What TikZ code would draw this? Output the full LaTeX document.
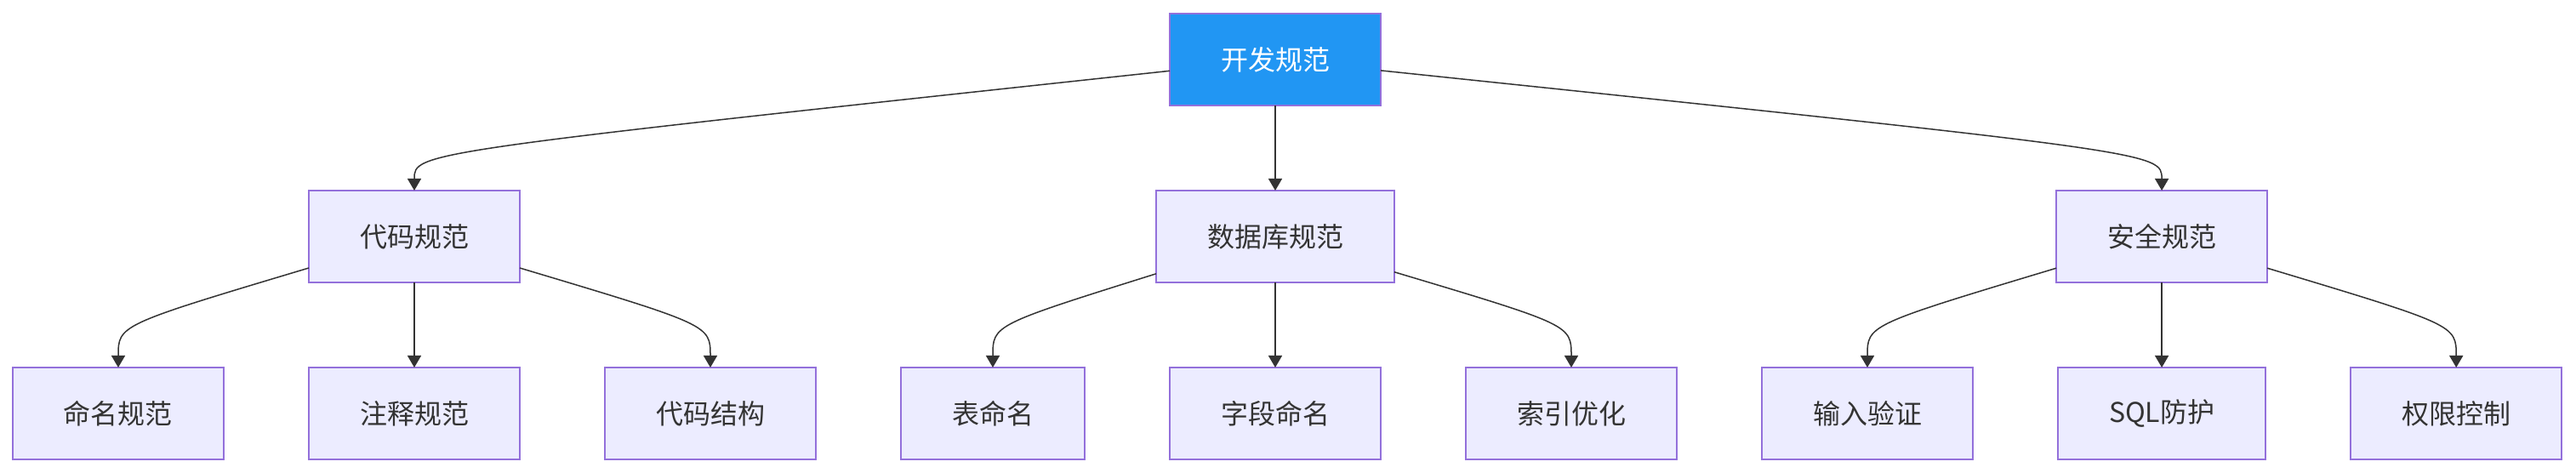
\documentclass[tikz,border=0pt]{standalone}
\usepackage{fontspec}
\newfontfamily\cjk{Noto Sans CJK SC}
\usetikzlibrary{arrows.meta,positioning,calc}
\definecolor{NodeFill}{HTML}{ECECFF}
\definecolor{NodeEdge}{HTML}{9370DB}
\definecolor{RootBlue}{HTML}{2196F3}
\definecolor{LineGray}{HTML}{333333}

\begin{document}
\begin{tikzpicture}[
    node distance=50pt,
    every node/.style={font=\cjk\fontsize{16pt}{19pt}\selectfont},
    box/.style={draw=NodeEdge,fill=NodeFill,text=LineGray,line width=0.9pt,minimum height=54pt,inner xsep=30pt,outer sep=0pt},
    rootbox/.style={box,fill=RootBlue,text=white},
    arr/.style={-{Triangle[width=8pt,length=7pt]},LineGray,line width=0.75pt}
  ]
  % bottom row
  \node[box] (naming) {命名规范};
  \node[box,right=of naming] (comment) {注释规范};
  \node[box,right=of comment] (struct) {代码结构};
  \node[box,right=of struct] (table) {表命名};
  \node[box,right=of table] (field) {字段命名};
  \node[box,right=of field] (index) {索引优化};
  \node[box,right=of index] (input) {输入验证};
  \node[box,right=of input] (sql) {SQL防护};
  \node[box,right=of sql] (perm) {权限控制};
  % middle row and root
  \node[box,above=of comment] (code) {代码规范};
  \node[box,above=of field] (db) {数据库规范};
  \node[box,above=of sql] (sec) {安全规范};
  \node[rootbox,above=of db] (root) {开发规范};

  \draw[arr] (root) .. controls ($(code.north)+(0,22.5pt)$) .. (code.north);
  \draw[arr] (root) -- (db);
  \draw[arr] (root) .. controls ($(sec.north)+(0,22.5pt)$) .. (sec.north);

  \draw[arr] (code) .. controls ($(naming.north)+(0,25pt)$) .. (naming.north);
  \draw[arr] (code) -- (comment);
  \draw[arr] (code) .. controls ($(struct.north)+(0,25pt)$) .. (struct.north);

  \draw[arr] (db) .. controls ($(table.north)+(0,25pt)$) .. (table.north);
  \draw[arr] (db) -- (field);
  \draw[arr] (db) .. controls ($(index.north)+(0,25pt)$) .. (index.north);

  \draw[arr] (sec) .. controls ($(input.north)+(0,25pt)$) .. (input.north);
  \draw[arr] (sec) -- (sql);
  \draw[arr] (sec) .. controls ($(perm.north)+(0,25pt)$) .. (perm.north);

  \path[use as bounding box] ($(naming.south west)+(-7.5pt,-8pt)$) rectangle ++(1514pt,278pt);
\end{tikzpicture}
\end{document}
